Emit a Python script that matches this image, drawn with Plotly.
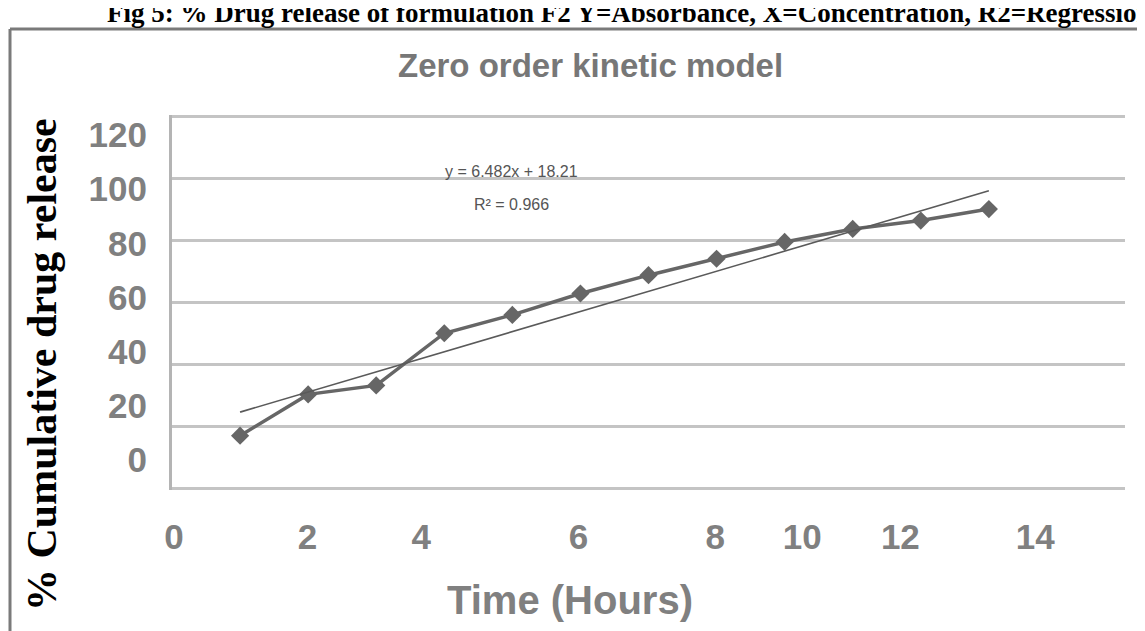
import plotly.graph_objects as go

# ---- data ----
time_hours = [1, 2, 3, 4, 5, 6, 7, 8, 9, 10, 11, 12]
cum_release = [17.1, 30.4, 33.3, 50.1, 56.0, 62.9, 68.8, 74.1, 79.5, 83.7, 86.4, 90.1]
trend_slope = 6.482
trend_intercept = 18.21
trend_x = [1, 12]
x_tick_pos = [0.03, 1.99, 3.66, 5.97, 7.98, 9.26, 10.7, 12.68]
x_tick_text = ["0", "2", "4", "6", "8", "10", "12", "14"]
y_tick_vals = [0, 20, 40, 60, 80, 100, 120]
y_tick_text = ["0", "20", "40", "60", "80", "100", "120"]

W, H = 1145, 631
OFF = 8  # page body margin
# target plot area in window pixels: x 172..1125, y 115..490
L = 172 - OFF
T = 115 - OFF
R = W - (1125 - OFF)
B = H - (490 - OFF)
PW, PH = W - L - R, H - T - B


def px(x):
    return (x - OFF - L) / PW


def py(y):
    return (H - B - (y - OFF)) / PH


GRAY = "#808080"
SANS = "Liberation Sans, Arial, sans-serif"
SERIF = "Liberation Serif, Times New Roman, serif"

trend_y = [trend_slope * x + trend_intercept for x in trend_x]

fig = go.Figure()
fig.add_trace(go.Scatter(
    x=time_hours, y=cum_release, mode="lines+markers",
    line=dict(color="#666666", width=3.5),
    marker=dict(symbol="diamond", size=14, color="#666666"),
    showlegend=False, hoverinfo="skip"))
fig.add_trace(go.Scatter(
    x=trend_x, y=trend_y, mode="lines",
    line=dict(color="#5a5a5a", width=1.6),
    showlegend=False, hoverinfo="skip"))
# carrier for the label axis
fig.add_trace(go.Scatter(
    x=time_hours, y=cum_release, yaxis="y2", mode="lines",
    line=dict(width=0), opacity=0, showlegend=False, hoverinfo="skip"))

fig.update_layout(
    width=W, height=H,
    margin=dict(l=L, r=R, t=T, b=B),
    paper_bgcolor="white", plot_bgcolor="white",
    xaxis=dict(range=[0, 14], showgrid=False, zeroline=False, showline=False,
               tickmode="array", tickvals=x_tick_pos, ticktext=x_tick_text,
               ticks="", ticklabelstandoff=23,
               tickfont=dict(family=SANS, size=35, color=GRAY, weight="bold")),
    yaxis=dict(range=[-0.4, 120.4], tickmode="array", tickvals=y_tick_vals,
               showticklabels=False, ticks="",
               showgrid=True, gridcolor="#c4c4c4", gridwidth=3,
               zeroline=False, showline=True, linecolor="#b4b4b4", linewidth=3),
    yaxis2=dict(overlaying="y", side="left", range=[-11.08, 127.4],
                tickmode="array", tickvals=y_tick_vals, ticktext=y_tick_text,
                showgrid=False, zeroline=False, showline=False, ticks="",
                ticklabelstandoff=24,
                tickfont=dict(family=SANS, size=35, color=GRAY, weight="bold")),
)

annotations = [
    dict(text="Fig 5: % Drug release of formulation F2 Y=Absorbance, X=Concentration, R2=Regression",
         x=px(105), y=py(13), xanchor="left", yanchor="middle",
         font=dict(family=SERIF, size=27, color="black", weight="bold")),
    dict(text="Zero order kinetic model", x=px(590), y=py(65),
         xanchor="center", yanchor="middle",
         font=dict(family=SANS, size=33, color="#777777", weight="bold")),
    dict(text="Time (Hours)", x=px(570), y=py(600),
         xanchor="center", yanchor="middle",
         font=dict(family=SANS, size=40, color=GRAY, weight="bold")),
    dict(text="% Cumulative drug release", x=px(42), y=py(365),
         xanchor="center", yanchor="middle", textangle=-90,
         font=dict(family=SERIF, size=42, color="black", weight="bold")),
    dict(text="y = 6.482x + 18.21", x=px(511), y=py(171),
         xanchor="center", yanchor="middle",
         font=dict(family=SANS, size=16, color="#555555")),
    dict(text="R² = 0.966", x=px(511), y=py(204),
         xanchor="center", yanchor="middle",
         font=dict(family=SANS, size=16, color="#555555")),
]
for a in annotations:
    a.update(xref="paper", yref="paper", showarrow=False)
fig.update_layout(annotations=annotations)

fig.update_layout(shapes=[
    dict(type="line", xref="paper", yref="paper", x0=px(10), x1=px(10), y0=py(29), y1=py(640),
         line=dict(color="#7a7a7a", width=3)),
    dict(type="line", xref="paper", yref="paper", x0=px(10), x1=px(1160), y0=py(29), y1=py(29),
         line=dict(color="#7a7a7a", width=3)),
])

fig.write_html("out.html")
